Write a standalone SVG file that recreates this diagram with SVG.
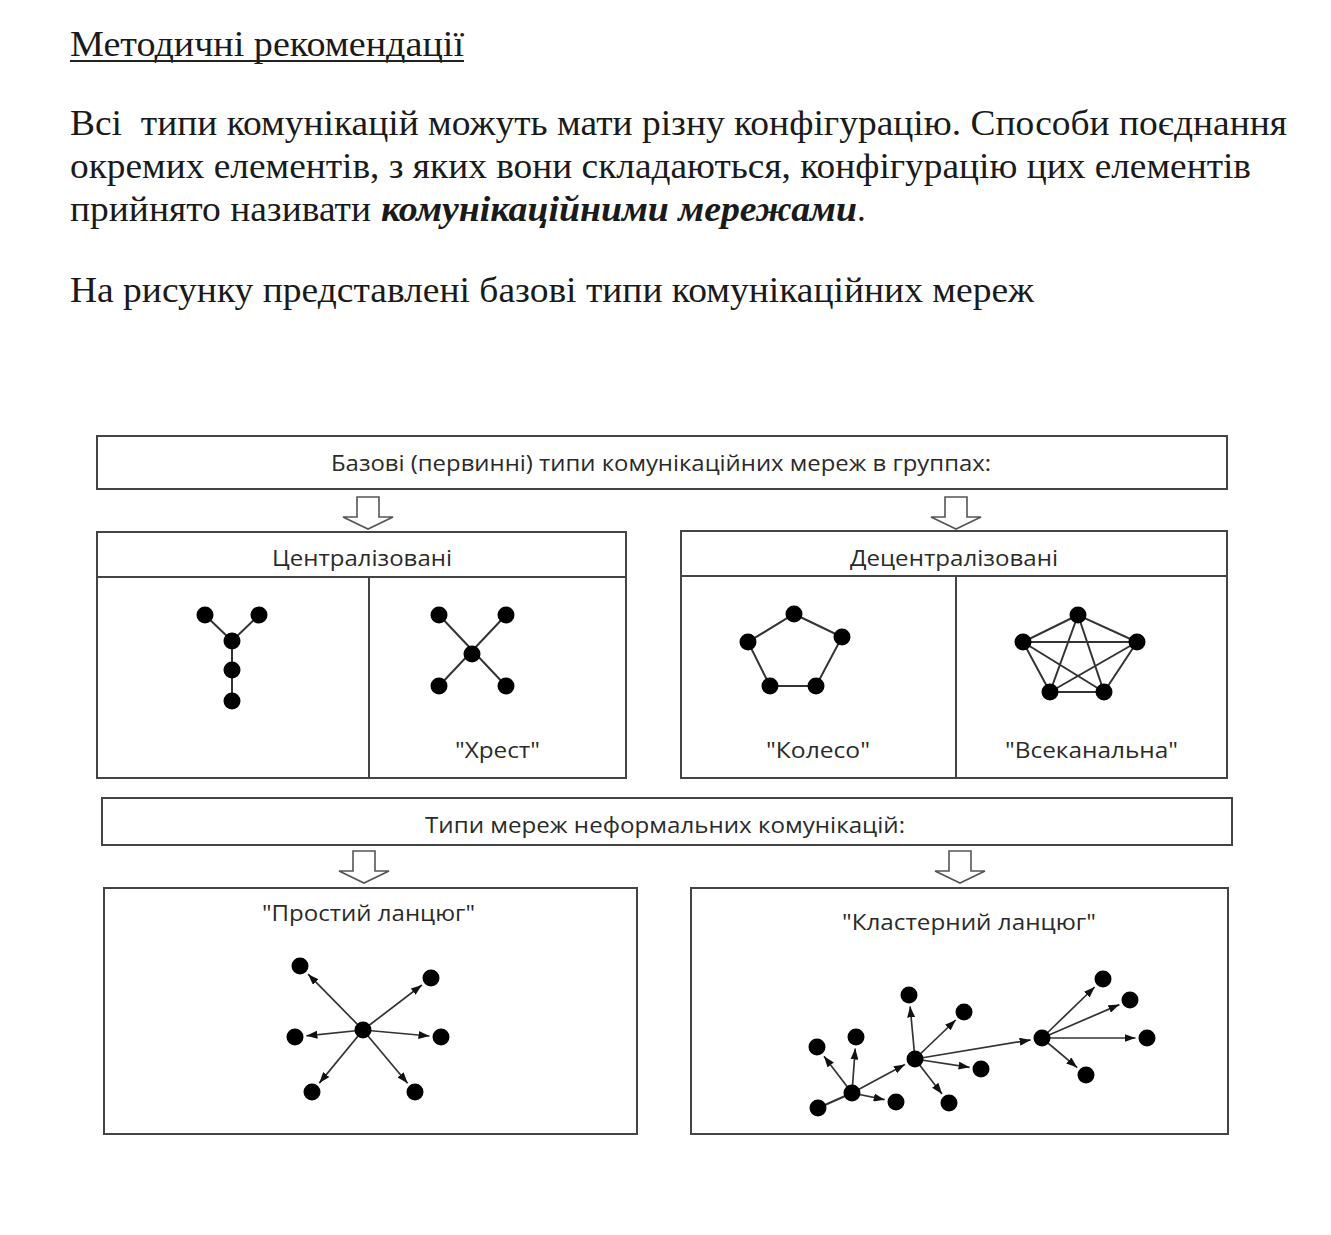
<svg xmlns="http://www.w3.org/2000/svg" width="1331" height="1235" viewBox="0 0 1331 1235">
<defs>
<style>
.ser{font-family:"Liberation Serif","Times New Roman",serif;font-size:35px;fill:#1a1a1a}
.bi{font-weight:bold;font-style:italic}
.dg{font-family:"Open Sans","Noto Sans","DejaVu Sans",sans-serif;font-size:21px;fill:#2a2a2a}
.box{fill:#fff;stroke:#444;stroke-width:2}
.div{stroke:#444;stroke-width:2;fill:none}
.harrow{fill:#fff;stroke:#555;stroke-width:1.6;stroke-linejoin:miter}
.edge{stroke:#333;stroke-width:2;fill:none}
.aedge{stroke:#333;stroke-width:1.7;fill:none;marker-end:url(#ah)}
.dot{fill:#000}
</style>
<marker id="ah" markerUnits="userSpaceOnUse" markerWidth="11" markerHeight="8" refX="11" refY="4" orient="auto">
<path d="M0,0 L11,4 L0,8 z" fill="#111"/>
</marker>
<path id="harr" d="M-11,0 L11,0 L11,20 L25,20 L0,32 L-25,20 L-11,20 Z"/>
</defs>
<rect width="1331" height="1235" fill="#fff"/>

<g id="heading">
<text class="ser" x="70" y="56" textLength="394" lengthAdjust="spacingAndGlyphs">Методичні рекомендації</text>
<line x1="70" y1="61" x2="464" y2="61" stroke="#222" stroke-width="2"/>
</g>
<g id="paragraph">
<text class="ser" x="70" y="135" xml:space="preserve" textLength="1217" lengthAdjust="spacingAndGlyphs">Всі  типи комунікацій можуть мати різну конфігурацію. Способи поєднання</text>
<text class="ser" x="70" y="178" textLength="1181" lengthAdjust="spacingAndGlyphs">окремих елементів, з яких вони складаються, конфігурацію цих елементів</text>
<text class="ser" x="70" y="221" textLength="301" lengthAdjust="spacingAndGlyphs">прийнято називати</text>
<text class="ser bi" x="381" y="221" textLength="476" lengthAdjust="spacingAndGlyphs">комунікаційними мережами</text>
<text class="ser" x="857" y="221">.</text>
<text class="ser" x="70" y="302" textLength="964" lengthAdjust="spacingAndGlyphs">На рисунку представлені базові типи комунікаційних мереж</text>
</g>

<g id="basic-types">
<rect class="box" x="97" y="436" width="1130" height="53"/>
<text class="dg" x="331" y="471" textLength="660" lengthAdjust="spacingAndGlyphs">Базові (первинні) типи комунікаційних мереж в группах:</text>
</g>

<g id="centralized">
<rect class="box" x="97" y="532" width="529" height="246"/>
<line class="div" x1="97" y1="577" x2="626" y2="577"/>
<line class="div" x1="369" y1="577" x2="369" y2="778"/>
<text class="dg" x="272" y="566" textLength="180" lengthAdjust="spacingAndGlyphs">Централізовані</text>
</g>
<g id="y-network">
<line class="edge" x1="205" y1="615" x2="232" y2="641"/>
<line class="edge" x1="259" y1="615" x2="232" y2="641"/>
<line class="edge" x1="232" y1="641" x2="232" y2="701"/>
<circle class="dot" cx="205" cy="615" r="8.5"/>
<circle class="dot" cx="259" cy="615" r="8.5"/>
<circle class="dot" cx="232" cy="641" r="8.5"/>
<circle class="dot" cx="232" cy="670" r="8.5"/>
<circle class="dot" cx="232" cy="701" r="8.5"/>
</g>
<g id="cross">
<line class="edge" x1="439" y1="615" x2="506" y2="686"/>
<line class="edge" x1="506" y1="615" x2="439" y2="686"/>
<circle class="dot" cx="439" cy="615" r="8.5"/>
<circle class="dot" cx="506" cy="615" r="8.5"/>
<circle class="dot" cx="472" cy="654" r="8.5"/>
<circle class="dot" cx="439" cy="686" r="8.5"/>
<circle class="dot" cx="506" cy="686" r="8.5"/>
<text class="dg" x="455" y="758" textLength="85" lengthAdjust="spacingAndGlyphs">"Хрест"</text>
</g>

<g id="decentralized">
<rect class="box" x="681" y="531" width="546" height="247"/>
<line class="div" x1="681" y1="576" x2="1227" y2="576"/>
<line class="div" x1="956" y1="576" x2="956" y2="778"/>
<text class="dg" x="850" y="566" textLength="208" lengthAdjust="spacingAndGlyphs">Децентралізовані</text>
</g>
<g id="wheel">
<polygon points="794,614 842,637 816,686 770,686 748,642" fill="none" stroke="#333" stroke-width="2"/>
<circle class="dot" cx="794" cy="614" r="8.5"/>
<circle class="dot" cx="842" cy="637" r="8.5"/>
<circle class="dot" cx="816" cy="686" r="8.5"/>
<circle class="dot" cx="770" cy="686" r="8.5"/>
<circle class="dot" cx="748" cy="642" r="8.5"/>
<text class="dg" x="766" y="758" textLength="104" lengthAdjust="spacingAndGlyphs">"Колесо"</text>
</g>
<g id="all-channel">
<path class="edge" d="M1078,615 L1023,642 L1050,692 L1104,692 L1137,642 Z M1078,615 L1050,692 M1078,615 L1104,692 M1023,642 L1137,642 M1023,642 L1104,692 M1137,642 L1050,692"/>
<circle class="dot" cx="1078" cy="615" r="8.5"/>
<circle class="dot" cx="1023" cy="642" r="8.5"/>
<circle class="dot" cx="1137" cy="642" r="8.5"/>
<circle class="dot" cx="1050" cy="692" r="8.5"/>
<circle class="dot" cx="1104" cy="692" r="8.5"/>
<text class="dg" x="1005" y="758" textLength="173" lengthAdjust="spacingAndGlyphs">"Всеканальна"</text>
</g>

<g id="informal-types">
<rect class="box" x="102" y="798" width="1130" height="47"/>
<text class="dg" x="425" y="833" textLength="480" lengthAdjust="spacingAndGlyphs">Типи мереж неформальних комунікацій:</text>
</g>

<g id="simple-chain">
<rect class="box" x="104" y="888" width="533" height="246"/>
<text class="dg" x="262" y="921" textLength="213" lengthAdjust="spacingAndGlyphs">"Простий ланцюг"</text>
<line class="aedge" x1="363" y1="1030" x2="308.1" y2="974.2"/>
<line class="aedge" x1="363" y1="1030" x2="421.9" y2="985"/>
<line class="aedge" x1="363" y1="1030" x2="306.4" y2="1035.8"/>
<line class="aedge" x1="363" y1="1030" x2="429.5" y2="1036"/>
<line class="aedge" x1="363" y1="1030" x2="319.3" y2="1083.1"/>
<line class="aedge" x1="363" y1="1030" x2="407.6" y2="1083.2"/>
<circle class="dot" cx="363" cy="1030" r="8.5"/>
<circle class="dot" cx="300" cy="966" r="8.5"/>
<circle class="dot" cx="431" cy="978" r="8.5"/>
<circle class="dot" cx="295" cy="1037" r="8.5"/>
<circle class="dot" cx="441" cy="1037" r="8.5"/>
<circle class="dot" cx="312" cy="1092" r="8.5"/>
<circle class="dot" cx="415" cy="1092" r="8.5"/>
</g>

<g id="cluster-chain">
<rect class="box" x="691" y="888" width="537" height="246"/>
<text class="dg" x="842" y="930" textLength="254" lengthAdjust="spacingAndGlyphs">"Кластерний ланцюг"</text>
<line class="edge" x1="818" y1="1108" x2="852" y2="1093" stroke-width="1.7"/>
<line class="aedge" x1="852" y1="1093" x2="824" y2="1056.2"/>
<line class="aedge" x1="852" y1="1093" x2="855.2" y2="1048.5"/>
<line class="aedge" x1="852" y1="1093" x2="884.7" y2="1099.7"/>
<line class="aedge" x1="852" y1="1093" x2="904.9" y2="1064.5"/>
<line class="aedge" x1="915" y1="1059" x2="910.1" y2="1006.4"/>
<line class="aedge" x1="915" y1="1059" x2="955.7" y2="1020"/>
<line class="aedge" x1="915" y1="1059" x2="969.6" y2="1067.3"/>
<line class="aedge" x1="915" y1="1059" x2="942" y2="1093.9"/>
<line class="aedge" x1="915" y1="1059" x2="1030.6" y2="1039.9"/>
<line class="aedge" x1="1042" y1="1038" x2="1094.7" y2="987"/>
<line class="aedge" x1="1042" y1="1038" x2="1119.4" y2="1004.6"/>
<line class="aedge" x1="1042" y1="1038" x2="1135.5" y2="1038"/>
<line class="aedge" x1="1042" y1="1038" x2="1077.2" y2="1067.6"/>
<circle class="dot" cx="818" cy="1108" r="8.5"/>
<circle class="dot" cx="852" cy="1093" r="8.5"/>
<circle class="dot" cx="817" cy="1047" r="8.5"/>
<circle class="dot" cx="856" cy="1037" r="8.5"/>
<circle class="dot" cx="896" cy="1102" r="8.5"/>
<circle class="dot" cx="915" cy="1059" r="8.5"/>
<circle class="dot" cx="909" cy="995" r="8.5"/>
<circle class="dot" cx="964" cy="1012" r="8.5"/>
<circle class="dot" cx="981" cy="1069" r="8.5"/>
<circle class="dot" cx="949" cy="1103" r="8.5"/>
<circle class="dot" cx="1042" cy="1038" r="8.5"/>
<circle class="dot" cx="1103" cy="979" r="8.5"/>
<circle class="dot" cx="1130" cy="1000" r="8.5"/>
<circle class="dot" cx="1147" cy="1038" r="8.5"/>
<circle class="dot" cx="1086" cy="1075" r="8.5"/>
</g>

<g id="connectors">
<use href="#harr" class="harrow" transform="translate(368,497)"/>
<use href="#harr" class="harrow" transform="translate(956,497)"/>
<use href="#harr" class="harrow" transform="translate(364,851)"/>
<use href="#harr" class="harrow" transform="translate(960,851)"/>
</g>
</svg>
